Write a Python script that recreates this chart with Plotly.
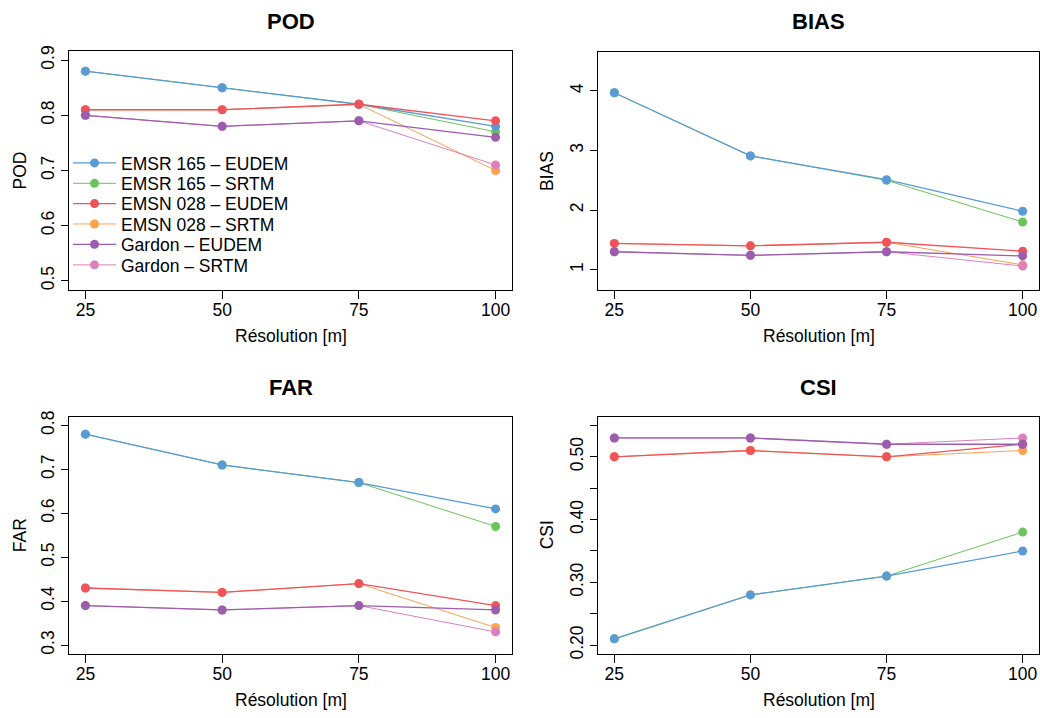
import plotly.graph_objects as go

resolution = [25, 50, 75, 100]
series_names = ["EMSR 165 – EUDEM", "EMSR 165 – SRTM", "EMSN 028 – EUDEM",
                "EMSN 028 – SRTM", "Gardon – EUDEM", "Gardon – SRTM"]
colors = ["#5A9BD6", "#6DC35C", "#F0545B", "#FFA14F", "#9D5DAF", "#DE80BE"]

pod = [
    [0.88, 0.85, 0.82, 0.78],
    [0.88, 0.85, 0.82, 0.77],
    [0.81, 0.81, 0.82, 0.79],
    [0.81, 0.81, 0.82, 0.70],
    [0.80, 0.78, 0.79, 0.76],
    [0.80, 0.78, 0.79, 0.71],
]
bias = [
    [3.97, 2.91, 2.51, 1.98],
    [3.97, 2.91, 2.50, 1.80],
    [1.44, 1.40, 1.46, 1.31],
    [1.44, 1.40, 1.46, 1.08],
    [1.30, 1.24, 1.30, 1.23],
    [1.30, 1.24, 1.30, 1.06],
]
far = [
    [0.78, 0.71, 0.67, 0.61],
    [0.78, 0.71, 0.67, 0.57],
    [0.43, 0.42, 0.44, 0.39],
    [0.43, 0.42, 0.44, 0.34],
    [0.39, 0.38, 0.39, 0.38],
    [0.39, 0.38, 0.39, 0.33],
]
csi = [
    [0.21, 0.28, 0.31, 0.35],
    [0.21, 0.28, 0.31, 0.38],
    [0.50, 0.51, 0.50, 0.52],
    [0.50, 0.51, 0.50, 0.51],
    [0.53, 0.53, 0.52, 0.52],
    [0.53, 0.53, 0.52, 0.53],
]

pod_ticks = [0.5, 0.6, 0.7, 0.8, 0.9]
pod_ticktext = ["0.5", "0.6", "0.7", "0.8", "0.9"]
bias_ticks = [1, 2, 3, 4]
bias_ticktext = ["1", "2", "3", "4"]
far_ticks = [0.3, 0.4, 0.5, 0.6, 0.7, 0.8]
far_ticktext = ["0.3", "0.4", "0.5", "0.6", "0.7", "0.8"]
csi_ticks = [0.20, 0.25, 0.30, 0.35, 0.40, 0.45, 0.50, 0.55]
csi_ticktext = ["0.20", "", "0.30", "", "0.40", "", "0.50", ""]

panels = [
    ("POD", pod, [0.484, 0.916], pod_ticks, pod_ticktext),
    ("BIAS", bias, [0.665, 4.65], bias_ticks, bias_ticktext),
    ("FAR", far, [0.28, 0.82], far_ticks, far_ticktext),
    ("CSI", csi, [0.186, 0.564], csi_ticks, csi_ticktext),
]

W, H = 1040, 718
FONT = "Liberation Sans, Arial, Helvetica, sans-serif"
FS = 17.5
# panel boxes in pixels: (x0, x1, ytop, ybottom)
boxes = [(69, 512, 46, 288), (598, 1039, 47, 288),
         (69, 512, 417, 658), (598, 1039, 417, 658)]

fig = go.Figure()
# draw order: SRTM series first, then EUDEM
draw_order = [1, 3, 5, 0, 2, 4]

layout = dict(
    width=W, height=H, autosize=False,
    margin=dict(l=0, r=0, t=0, b=0),
    paper_bgcolor="white", plot_bgcolor="white",
    font=dict(family=FONT, size=FS, color="black"),
    showlegend=True,
)
annotations = []

for p, (name, data, yr, tv, tt) in enumerate(panels):
    x0, x1, yt, yb = boxes[p]
    xa = "xaxis" if p == 0 else f"xaxis{p+1}"
    ya = "yaxis" if p == 0 else f"yaxis{p+1}"
    xref = "x" if p == 0 else f"x{p+1}"
    yref = "y" if p == 0 else f"y{p+1}"
    layout[xa] = dict(
        domain=[x0 / W, x1 / W], range=[22, 103], anchor=yref,
        tickvals=resolution, ticktext=[str(v) for v in resolution],
        ticks="outside", ticklen=8, tickwidth=1, tickcolor="black",
        showline=True, linecolor="black", linewidth=1, mirror=True,
        showgrid=False, zeroline=False, tickfont=dict(size=FS),
        ticklabelstandoff=-4,
    )
    layout[ya] = dict(
        domain=[(H - yb) / H, (H - yt) / H], range=yr, anchor=xref,
        tickvals=tv, ticktext=tt, tickangle=-90,
        ticks="outside", ticklen=7, tickwidth=1, tickcolor="black",
        showline=True, linecolor="black", linewidth=1, mirror=True,
        showgrid=False, zeroline=False, tickfont=dict(size=FS),
    )
    for i in draw_order:
        lg = "legend" if i == 0 else f"legend{i+1}"
        fig.add_trace(go.Scatter(
            x=resolution, y=data[i], mode="lines+markers", name=series_names[i],
            line=dict(color=colors[i], width=1.3 if i % 2 == 0 else 1),
            marker=dict(color=colors[i], size=9),
            xaxis=xref, yaxis=yref,
            showlegend=(p == 0), legend=lg,
        ))
    cx = (x0 + x1) / 2 / W
    annotations.append(dict(text=f"<b>{name}</b>", x=cx, y=(H - (16 if p < 2 else 387)) / H,
                            xref="paper", yref="paper", showarrow=False,
                            font=dict(size=22), xanchor="center", yanchor="middle"))
    annotations.append(dict(text="Résolution [m]", x=cx, y=(H - (335 if p < 2 else 705)) / H,
                            xref="paper", yref="paper", showarrow=False,
                            font=dict(size=FS), xanchor="center", yanchor="middle"))
    annotations.append(dict(text=name, x=(20 if p % 2 == 0 else 547) / W,
                            y=(H - (yt + yb) / 2) / H, textangle=-90,
                            xref="paper", yref="paper", showarrow=False,
                            font=dict(size=FS), xanchor="center", yanchor="middle"))

# one legend per series, stacked inside the POD panel
leg_y = [159.5, 180.2, 200.8, 221.5, 242.2, 263]
for i in range(6):
    lg = "legend" if i == 0 else f"legend{i+1}"
    layout[lg] = dict(x=68 / W, y=(H - leg_y[i]) / H, xanchor="left", yanchor="middle",
                      bgcolor="rgba(0,0,0,0)", borderwidth=0,
                      font=dict(size=FS, family=FONT), itemwidth=43)

layout["annotations"] = annotations
fig.update_layout(**layout)
fig.write_html("out.html", config={"displayModeBar": False},
               post_script="document.body.style.margin='0';document.body.style.padding='0';document.body.style.overflow='hidden';")
